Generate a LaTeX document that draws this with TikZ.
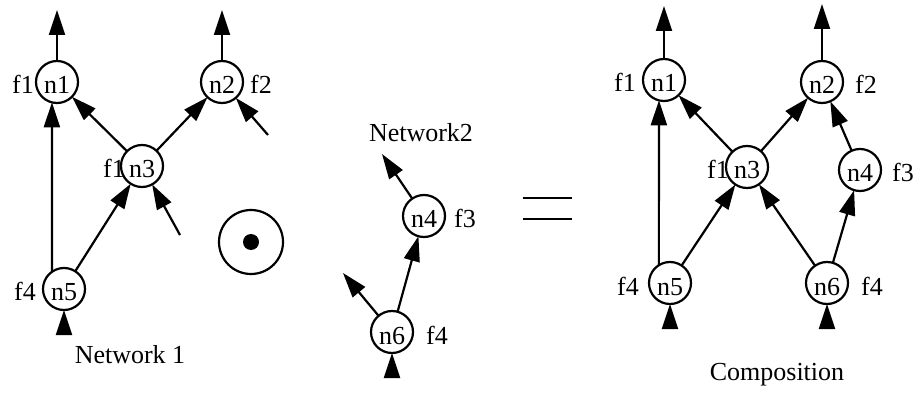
\documentclass[tikz,border=0pt]{standalone}
\usepackage{fontspec}
\setmainfont{Liberation Serif}
\usetikzlibrary{arrows.meta}
\begin{document}
\begin{tikzpicture}[x=1pt,y=-1pt,
  every node/.style={font=\fontsize{26pt}{30pt}\selectfont},
  vert/.style={circle, draw, line width=2.2pt, fill=white, minimum size=42pt,
    inner sep=0pt, outer sep=0pt, text height=24pt, text depth=0pt},
  lbl/.style={anchor=base, inner sep=0pt},
  title/.style={anchor=base, inner sep=0pt},
  flow/.style={line width=2.2pt, -{Triangle[length=25pt,width=16pt]}},
  ]
\useasboundingbox (0,0) rectangle (918,395);

% ---------- Network 1 ----------
\node[lbl] (l1a) at (23,94) {f1};
\node[lbl] (l2a) at (261,94) {f2};
\node[lbl] (l3a) at (114,178) {f1};
\node[lbl] (l5a) at (25,301) {f4};

\node[vert] (a1) at (57,82) {n1};
\node[vert] (a2) at (222,82) {n2};
\node[vert] (a3) at (142,166) {n3};
\node[vert] (a5) at (64,289) {n5};

\coordinate (a1out) at (57,10);
\coordinate (a2out) at (222,10);
\coordinate (a2in) at (268,135);
\coordinate (a3in) at (180,235);
\coordinate (a5in) at (64,334);

\draw[flow] (a1) -- (a1out);
\draw[flow] (a2) -- (a2out);
\draw[flow] (a3) -- (a1);
\draw[flow] (a3) -- (a2);
\draw[flow] (a5) -- (a3);
\draw[flow] (a5.125) -- (a1.-104);
\draw[flow] (a2in) -- (a2);
\draw[flow] (a3in) -- (a3);
\draw[flow] (a5in) -- (a5);

\node[title] (net1) at (130,363) {Network 1};

% composition operator
\draw[line width=2.2pt] (251,242) circle[radius=32];
\fill (251,242) circle[radius=8];

% ---------- Network2 ----------
\node[title] (net2) at (421,142) {Network2};
\node[lbl] (l4b) at (465,228) {f3};
\node[lbl] (l6b) at (437,344) {f4};

\node[vert] (b4) at (424,216) {n4};
\node[vert] (b6) at (392,332) {n6};

\coordinate (b4out) at (382,154);
\coordinate (b6out) at (343,273);
\coordinate (b6in) at (392,377);

\draw[flow] (b4) -- (b4out);
\draw[flow] (b6) -- (b4);
\draw[flow] (b6) -- (b6out);
\draw[flow] (b6in) -- (b6);

% equals sign
\draw[line width=2.6pt] (523,198) -- (572,198);
\draw[line width=2.6pt] (523,219) -- (572,219);

% ---------- Composition ----------
\node[lbl] (l1c) at (625,92) {f1};
\node[lbl] (l2c) at (866,94) {f2};
\node[lbl] (l3c) at (718,179) {f1};
\node[lbl] (l4c) at (903,182) {f3};
\node[lbl] (l5c) at (628,295) {f4};
\node[lbl] (l6c) at (872,295) {f4};

\node[vert] (c1) at (664,80) {n1};
\node[vert] (c2) at (822,82) {n2};
\node[vert] (c3) at (747,167) {n3};
\node[vert] (c4) at (860,170) {n4};
\node[vert] (c5) at (670,283) {n5};
\node[vert] (c6) at (827,283) {n6};

\coordinate (c1out) at (664,6);
\coordinate (c2out) at (822,4);
\coordinate (c5in) at (670,329);
\coordinate (c6in) at (827,329);

\draw[flow] (c1) -- (c1out);
\draw[flow] (c2) -- (c2out);
\draw[flow] (c3) -- (c1);
\draw[flow] (c3) -- (c2);
\draw[flow] (c4) -- (c2);
\draw[flow] (c5) -- (c3);
\draw[flow] (c5.122) -- (c1.-104);
\draw[flow] (c6) -- (c3);
\draw[flow] (c6) -- (c4);
\draw[flow] (c5in) -- (c5);
\draw[flow] (c6in) -- (c6);

\node[title] (comp) at (777,380) {Composition};
\end{tikzpicture}
\end{document}
